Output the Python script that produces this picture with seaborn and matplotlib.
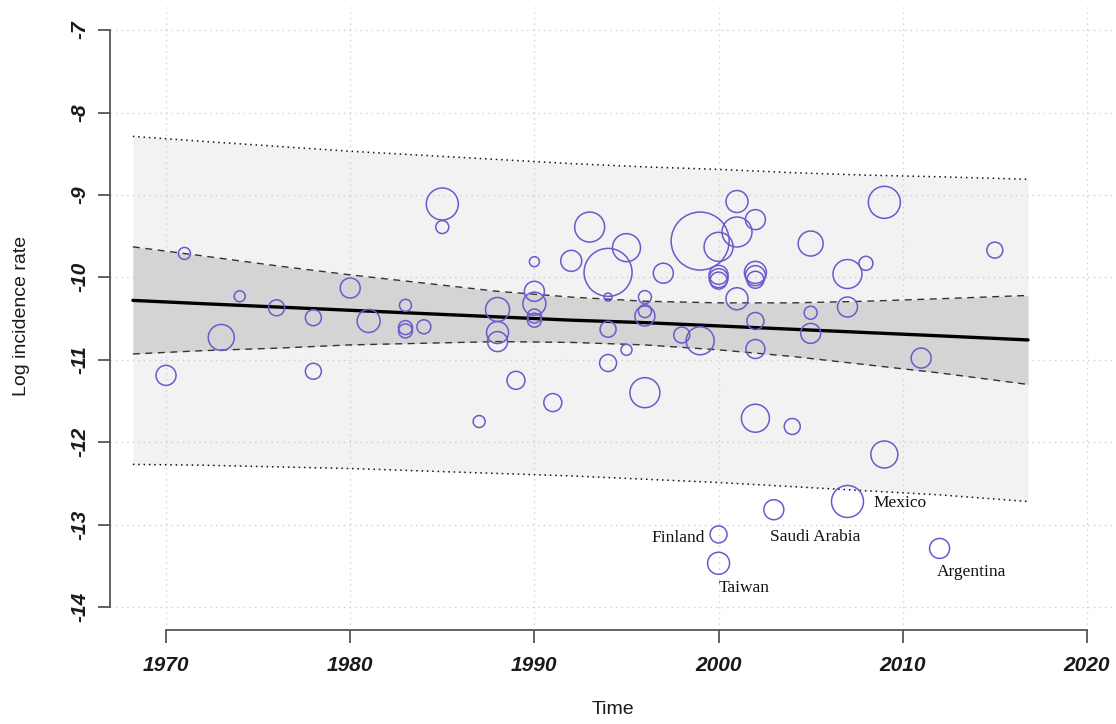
import numpy as np
import pandas as pd
import matplotlib
matplotlib.use("Agg")
import matplotlib.pyplot as plt
import seaborn as sns

# ---------------- data ----------------
study_year = [1970, 1971, 1973, 1974, 1976, 1978, 1978, 1980, 1981, 1983,
              1983, 1983, 1984, 1985, 1985, 1987, 1988, 1988, 1988, 1989,
              1990, 1990, 1990, 1990, 1990, 1991, 1992, 1993, 1994, 1994,
              1994, 1994, 1995, 1995, 1996, 1996, 1996, 1996, 1997, 1998,
              1999, 1999, 2000, 2000, 2000, 2000, 2000, 2000, 2001, 2001,
              2001, 2002, 2002, 2002, 2002, 2002, 2002, 2002, 2003, 2004,
              2005, 2005, 2005, 2007, 2007, 2007, 2008, 2009, 2009, 2011,
              2012, 2015]
log_rate = [-11.19, -9.71, -10.73, -10.23, -10.37, -10.49, -11.14, -10.13, -10.53, -10.34,
            -10.61, -10.65, -10.60, -9.11, -9.39, -11.75, -10.39, -10.67, -10.78, -11.25,
            -9.81, -10.17, -10.32, -10.47, -10.52, -11.52, -9.80, -9.39, -9.94, -10.24,
            -10.63, -11.04, -9.64, -10.88, -10.24, -10.41, -10.47, -11.40, -9.95, -10.70,
            -9.56, -10.77, -9.63, -9.97, -10.01, -10.04, -13.12, -13.47, -9.08, -9.45,
            -10.26, -9.30, -9.94, -9.98, -10.03, -10.53, -10.87, -11.71, -12.82, -11.81,
            -9.59, -10.43, -10.68, -9.96, -10.36, -12.72, -9.83, -9.09, -12.15, -10.98,
            -13.29, -9.67]
# relative study weight (bubble scale, read from circle radii)
study_weight = [10, 6, 13, 5.5, 8, 8, 8, 10, 11.5, 6,
                7, 7, 7, 16, 6.5, 6, 12, 11, 10, 9,
                5, 10, 11.5, 7, 7, 9, 10.5, 15, 24, 4,
                8, 8.5, 14, 5.5, 6.5, 6.5, 10, 15, 10, 8,
                29, 14, 14.5, 9.5, 9.5, 8.5, 8.5, 11, 11, 15,
                11, 10, 11, 10, 8.5, 8.5, 9.5, 14, 10, 8,
                12.5, 6.5, 10, 14.5, 10, 16, 7, 16, 13.5, 10,
                10, 8]

label_names = ["Mexico", "Saudi Arabia", "Finland", "Taiwan", "Argentina"]
label_index = [65, 58, 46, 47, 70]

# regression line, confidence and prediction bands (read at several years)
band_year = [1968.2, 1972, 1976, 1980, 1984, 1988, 1992, 1996, 2000, 2004, 2008, 2012, 2016.8]
fit_line = [-10.28, -10.32, -10.36, -10.40, -10.44, -10.48, -10.52, -10.55, -10.59, -10.63, -10.67, -10.71, -10.76]
ci_upper = [-9.63, -9.74, -9.86, -9.97, -10.07, -10.17, -10.24, -10.29, -10.31, -10.31, -10.29, -10.26, -10.22]
ci_lower = [-10.93, -10.89, -10.86, -10.82, -10.80, -10.78, -10.79, -10.82, -10.88, -10.96, -11.06, -11.16, -11.30]
pi_upper = [-8.29, -8.35, -8.41, -8.47, -8.52, -8.57, -8.62, -8.66, -8.69, -8.73, -8.76, -8.78, -8.81]
pi_lower = [-12.27, -12.28, -12.30, -12.32, -12.35, -12.38, -12.41, -12.45, -12.49, -12.54, -12.59, -12.64, -12.72]

x_ticks = [1970, 1980, 1990, 2000, 2010, 2020]
y_ticks = [-7, -8, -9, -10, -11, -12, -13, -14]

# ---------------- plotting ----------------
sns.set_style("white")
plt.rcParams["font.family"] = ["Liberation Sans", "DejaVu Sans"]

fig = plt.figure(figsize=(11.16, 7.24), dpi=100)
ax = fig.add_axes([0.0986, 0.1298, 0.8978, 0.8605])

bands = pd.DataFrame({"year": band_year, "fit": fit_line, "ci_lo": ci_lower,
                      "ci_hi": ci_upper, "pi_lo": pi_lower, "pi_hi": pi_upper})

ax.fill_between(bands["year"], bands["pi_lo"], bands["pi_hi"], color="#f2f2f2", lw=0, zorder=1)
ax.fill_between(bands["year"], bands["ci_lo"], bands["ci_hi"], color="#d4d4d4", lw=0, zorder=1.6)

for col in ["pi_lo", "pi_hi"]:
    sns.lineplot(data=bands, x="year", y=col, ax=ax, color="#111111", lw=1.1,
                 linestyle=(0, (1, 2.5)), zorder=3)
for col in ["ci_lo", "ci_hi"]:
    sns.lineplot(data=bands, x="year", y=col, ax=ax, color="#333333", lw=1.0,
                 linestyle=(0, (5, 4)), zorder=3)
sns.lineplot(data=bands, x="year", y="fit", ax=ax, color="black", lw=2.4, zorder=3.2)

df = pd.DataFrame({"year": study_year, "rate": log_rate, "w": study_weight})
df["area"] = df["w"] ** 2
pt = 72 / 100 * 2  # radius(px) -> marker diameter(pt)
wmin, wmax = df["w"].min(), df["w"].max()
sns.scatterplot(data=df, x="year", y="rate", size="area",
                sizes=((pt * wmin) ** 2, (pt * wmax) ** 2),
                size_norm=(wmin ** 2, wmax ** 2), legend=False, ax=ax, zorder=4)
coll = ax.collections[-1]
coll.set_facecolor("none")
coll.set_edgecolor("#6a5acd")
coll.set_linewidth(1.1)

# country labels
offsets = {"Mexico": (19, -1, "left"), "Saudi Arabia": (30, -20, "center"),
           "Finland": (-10, -2.5, "right"), "Taiwan": (0, -18, "left"),
           "Argentina": (-2, -17, "left")}
for name, idx in zip(label_names, label_index):
    dx, dy, ha = offsets[name]
    ax.annotate(name, (study_year[idx], log_rate[idx]), xytext=(dx, dy),
                textcoords="offset points", ha=ha, va="center",
                fontsize=12.5, family=["Liberation Serif", "DejaVu Serif"],
                color="#111111", zorder=5)

# axes / grid
ax.set_xlim(1966.96, 2021.36)
ax.set_ylim(-14.28, -6.72)
ax.set_xticks(x_ticks)
ax.set_xticklabels([str(t) for t in x_ticks], fontstyle="italic", fontweight="bold",
                   fontsize=15, color="#1a1a1a")
ax.set_yticks(y_ticks)
ax.set_yticklabels([str(t) for t in y_ticks], fontstyle="italic", fontweight="bold",
                   fontsize=15, color="#1a1a1a", rotation=90, va="center")
ax.set_axisbelow("line")
ax.grid(True, color="#cfcfcf", linestyle=(0, (1, 3)), linewidth=1.0)

for s in ["top", "right"]:
    ax.spines[s].set_visible(False)
ax.spines["left"].set_bounds(-14, -7)
ax.spines["bottom"].set_bounds(1970, 2020)
for s in ["left", "bottom"]:
    ax.spines[s].set_color("#555555")
    ax.spines[s].set_linewidth(1.3)
ax.tick_params(axis="both", which="major", bottom=True, left=True, direction="out",
               length=9, width=1.3, color="#555555")
ax.tick_params(axis="x", pad=10)
ax.tick_params(axis="y", pad=6)

ax.set_xlabel("Time", fontsize=14, color="#1a1a1a", va="center")
ax.set_ylabel("Log incidence rate", fontsize=14, color="#1a1a1a", va="center")
ax.xaxis.set_label_coords(0.502, -0.128)
ax.yaxis.set_label_coords(-0.088, 0.504)

fig.savefig("out.png", dpi=100)
